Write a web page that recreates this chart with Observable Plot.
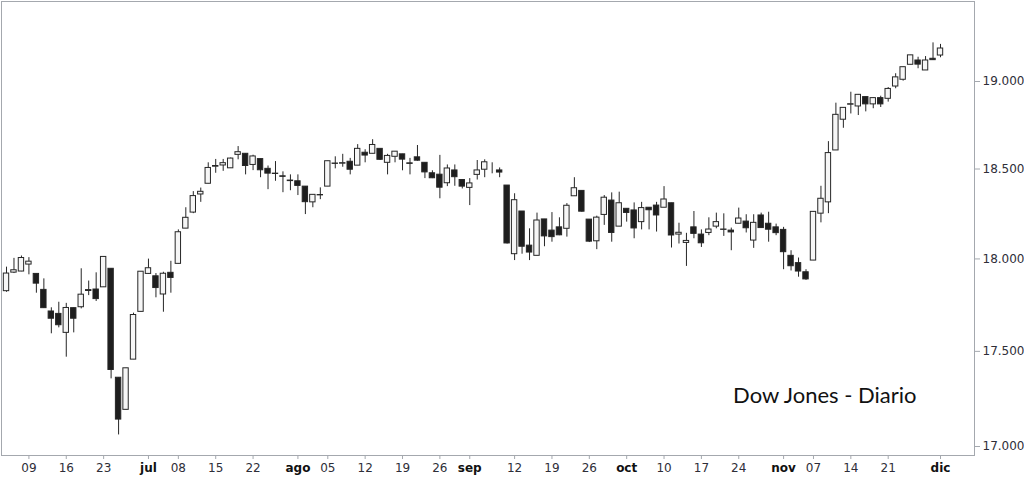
<!DOCTYPE html>
<html>
<head>
<meta charset="utf-8">
<script src="https://cdn.jsdelivr.net/npm/d3@7"></script>
<script src="https://cdn.jsdelivr.net/npm/@observablehq/plot@0.6"></script>
<style>
  html, body { margin: 0; padding: 0; background: #fff; }
  #chart { width: 1024px; height: 477px; }
</style>
</head>
<body>
<div id="chart"></div>
<script>
// Trading days (no gaps): June 6, 2016 -> Dec 1, 2016
const dates = [
  "06-06","06-07","06-08","06-09","06-10","06-13","06-14","06-15","06-16","06-17",
  "06-20","06-21","06-22","06-23","06-24","06-27","06-28","06-29","06-30","07-01",
  "07-05","07-06","07-07","07-08","07-11","07-12","07-13","07-14","07-15","07-18",
  "07-19","07-20","07-21","07-22","07-25","07-26","07-27","07-28","07-29","08-01",
  "08-02","08-03","08-04","08-05","08-08","08-09","08-10","08-11","08-12","08-15",
  "08-16","08-17","08-18","08-19","08-22","08-23","08-24","08-25","08-26","08-29",
  "08-30","08-31","09-01","09-02","09-06","09-07","09-08","09-09","09-12","09-13",
  "09-14","09-15","09-16","09-19","09-20","09-21","09-22","09-23","09-26","09-27",
  "09-28","09-29","09-30","10-03","10-04","10-05","10-06","10-07","10-10","10-11",
  "10-12","10-13","10-14","10-17","10-18","10-19","10-20","10-21","10-24","10-25",
  "10-26","10-27","10-28","10-31","11-01","11-02","11-03","11-04","11-07","11-08",
  "11-09","11-10","11-11","11-14","11-15","11-16","11-17","11-18","11-21","11-22",
  "11-23","11-25","11-28","11-29","11-30","12-01"
];
const open = [
  17824,17925,17931,17969,17918,17831,17714,17701,17599,17732,
  17737,17825,17833,17845,17946,17360,17191,17456,17712,17918,
  17905,17806,17924,17973,18167,18256,18357,18417,18513,18520,
  18504,18580,18586,18523,18556,18501,18474,18459,18435,18431,
  18401,18313,18354,18401,18531,18530,18541,18519,18592,18586,
  18614,18535,18569,18583,18532,18566,18535,18476,18468,18420,
  18492,18438,18394,18467,18496,18526,18492,18407,18026,18262,
  18073,18017,18218,18156,18174,18166,18347,18377,18217,18097,
  18243,18323,18178,18277,18268,18203,18283,18295,18283,18308,
  18134,18088,18174,18134,18143,18178,18160,18156,18194,18206,
  18101,18240,18194,18174,18160,18017,17977,17927,17991,18250,
  18313,18605,18780,18866,18856,18910,18868,18904,18900,18971,
  19010,19097,19122,19064,19132,19151
];
const high = [
  17955,18003,18016,18007,17918,17891,17734,17764,17758,17733,
  17946,17879,17924,18011,17946,17360,17410,17705,17930,17999,
  17920,17927,17987,18160,18283,18373,18393,18535,18554,18554,
  18562,18627,18586,18578,18556,18517,18542,18484,18467,18467,
  18401,18355,18394,18544,18569,18583,18560,18638,18609,18666,
  18614,18583,18598,18583,18560,18633,18535,18490,18577,18523,
  18523,18438,18446,18548,18552,18535,18506,18407,18361,18262,
  18166,18253,18218,18256,18227,18306,18451,18377,18217,18236,
  18351,18366,18370,18277,18310,18313,18283,18313,18401,18308,
  18197,18141,18262,18160,18227,18253,18249,18170,18281,18244,
  18244,18253,18258,18192,18174,18045,18005,17941,18262,18403,
  18655,18875,18848,18938,18925,18910,18904,18915,18965,19045,
  19083,19152,19141,19145,19225,19216
];
const low = [
  17818,17920,17930,17913,17813,17730,17594,17626,17469,17599,
  17728,17800,17768,17844,17354,17060,17190,17456,17711,17916,
  17788,17710,17813,17973,18167,18250,18313,18417,18476,18487,
  18504,18552,18467,18491,18451,18384,18431,18367,18378,18351,
  18245,18283,18328,18401,18501,18510,18467,18519,18535,18586,
  18548,18467,18535,18490,18467,18544,18446,18446,18333,18401,
  18403,18388,18295,18438,18451,18473,18451,18082,17991,18026,
  17991,18017,18067,18092,18128,18120,18347,18258,18090,18051,
  18185,18092,18178,18203,18111,18160,18160,18148,18283,18060,
  18082,17959,18111,18063,18128,18166,18124,18045,18194,18143,
  18058,18168,18092,18128,17941,17934,17900,17883,17991,18199,
  18250,18605,18731,18813,18804,18825,18843,18850,18881,18958,
  19002,19097,19074,19064,19122,19138
];
const close = [
  17920,17938,18005,17985,17865,17732,17675,17640,17733,17675,
  17805,17830,17781,18011,17401,17140,17410,17695,17930,17949,
  17841,17919,17896,18147,18227,18348,18372,18506,18517,18533,
  18559,18595,18517,18571,18493,18474,18472,18456,18432,18405,
  18314,18355,18352,18544,18529,18533,18496,18614,18576,18636,
  18552,18574,18598,18553,18529,18547,18481,18448,18395,18503,
  18454,18401,18419,18492,18538,18526,18480,18085,18325,18067,
  18035,18212,18124,18120,18130,18294,18392,18261,18095,18228,
  18339,18143,18308,18254,18168,18281,18269,18240,18329,18129,
  18144,18099,18138,18086,18162,18203,18162,18146,18223,18169,
  18199,18170,18161,18142,18037,17960,17931,17888,18260,18333,
  18590,18808,18848,18869,18923,18868,18904,18868,18957,19024,
  19083,19152,19098,19122,19124,19192
];

// x-axis tick labels (trading-day dates)
const dayTickDates = ["06-09","06-16","06-23","07-08","07-15","07-22","08-05","08-12","08-19","08-26",
                      "09-12","09-19","09-26","10-10","10-17","10-24","11-07","11-14","11-21"];
const dayTickLabels = ["09","16","23","08","15","22","05","12","19","26","12","19","26","10","17","24","07","14","21"];
const monthTickDates = ["07-01","08-01","09-01","10-03","11-01","12-01"];
const monthTickLabels = ["jul","ago","sep","oct","nov","dic"];
const yTicks = [17000, 17500, 18000, 18500, 19000];
const title = "Dow Jones - Diario";

const candles = dates.map((d, i) => ({i, date: d, open: open[i], high: high[i], low: low[i], close: close[i]}));
const idx = new Map(dates.map((d, i) => [d, i]));
const dayTicks = dayTickDates.map(d => idx.get(d));
const monthTicks = monthTickDates.map(d => idx.get(d));
const dayLab = new Map(dayTicks.map((t, k) => [t, dayTickLabels[k]]));
const monLab = new Map(monthTicks.map((t, k) => [t, monthTickLabels[k]]));

const es = d3.formatLocale({decimal: ",", thousands: ".", grouping: [3], currency: ["", " €"]});
const fmt = es.format(",");

const ink = "#262626";
const axisColor = "#2e2e38";

const chart = Plot.plot({
  width: 1024,
  height: 477,
  marginLeft: 1,
  marginRight: 50,
  marginTop: 1,
  marginBottom: 22,
  style: {fontFamily: "DejaVu Sans", fontSize: "12px", background: "#fff"},
  x: {type: "linear", domain: [0, 125], range: [6, 940]},
  y: {type: "log", domain: [17000, 19000], range: [446, 81]},
  marks: [
    Plot.frame({stroke: "#a4a8ae"}),
    Plot.axisY(yTicks, {anchor: "right", tickSize: 5, tickPadding: 3, tickFormat: fmt,
      stroke: "#a4a8ae", fill: axisColor, fontSize: 12, label: null}),
    Plot.axisX(dayTicks, {anchor: "bottom", tickSize: 4, tickPadding: 4, tickFormat: t => dayLab.get(t),
      stroke: "#a4a8ae", fill: axisColor, fontSize: 12, label: null}),
    Plot.axisX(monthTicks, {anchor: "bottom", tickSize: 4, tickPadding: 4, tickFormat: t => monLab.get(t),
      stroke: "#a4a8ae", fill: "#111", fontSize: 12, fontWeight: "bold", label: null}),
    Plot.ruleX(candles, {x: "i", y1: "low", y2: "high", stroke: ink, strokeWidth: 1}),
    Plot.rect(candles, {
      x1: d => d.i - 0.36, x2: d => d.i + 0.36,
      y1: "open", y2: "close",
      fill: d => d.close >= d.open ? "#f6f6f6" : "#1e1e1e",
      stroke: ink, strokeWidth: 1
    }),
    Plot.text([title], {frameAnchor: "bottom-right", dx: -58, dy: -53, fontSize: 22,
      fontFamily: "Lato", fill: "#111", text: d => d})
  ]
});
document.getElementById("chart").appendChild(chart);
</script>
</body>
</html>
